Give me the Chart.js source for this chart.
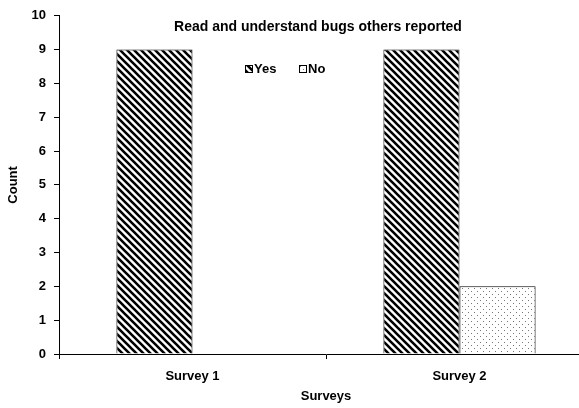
<!DOCTYPE html>
<html>
<head>
<meta charset="utf-8">
<script src="https://cdn.jsdelivr.net/npm/chart.js@4"></script>
<style>
  html, body { margin: 0; padding: 0; background: #fff; overflow: hidden; }
  #wrap { width: 600px; height: 408px; }
</style>
</head>
<body>
<div id="wrap"><canvas id="chart" width="600" height="408"></canvas></div>
<script>
const categories = ["Survey 1", "Survey 2"];
const yesCounts = [9, 9];
const noCounts = [0, 2];
const seriesNames = ["Yes", "No"];
const chartTitle = "Read and understand bugs others reported";

const FONT = "'Liberation Sans', Arial, sans-serif";

// diagonal stripes, top-left to bottom-right
function stripePattern() {
  const c = document.createElement("canvas");
  c.width = 7; c.height = 7;
  const g = c.getContext("2d");
  g.fillStyle = "#fff";
  g.fillRect(0, 0, 7, 7);
  g.strokeStyle = "#000";
  g.lineWidth = 2.6;
  g.beginPath();
  g.moveTo(-7, -7); g.lineTo(14, 14);
  g.moveTo(-7, 0); g.lineTo(7, 14);
  g.moveTo(0, -7); g.lineTo(14, 7);
  g.stroke();
  return g.createPattern(c, "repeat");
}

// sparse dots
function dotPattern() {
  const c = document.createElement("canvas");
  c.width = 6; c.height = 6;
  const g = c.getContext("2d");
  g.fillStyle = "#fff";
  g.fillRect(0, 0, 6, 6);
  g.fillStyle = "#777";
  g.fillRect(0, 0, 1, 1);
  g.fillRect(3, 3, 1, 1);
  return g.createPattern(c, "repeat");
}

const yesFill = stripePattern();
const noFill = dotPattern();

const overlay = {
  id: "overlay",
  afterDraw(chart) {
    const ctx = chart.ctx;
    ctx.save();
    ctx.fillStyle = "#000";
    ctx.font = "bold 14px " + FONT;
    ctx.textAlign = "center";
    ctx.textBaseline = "middle";
    ctx.fillText(chartTitle, 318, 27);

    // legend
    const items = [[245, yesFill, seriesNames[0]], [299, noFill, seriesNames[1]]];
    ctx.textAlign = "left";
    ctx.font = "bold 13px " + FONT;
    items.forEach(([x, fill, name]) => {
      ctx.fillStyle = fill;
      ctx.fillRect(x, 65, 7, 7);
      ctx.strokeStyle = "#000";
      ctx.lineWidth = 1;
      ctx.strokeRect(x + 0.5, 65.5, 7, 7);
      ctx.fillStyle = "#000";
      ctx.fillText(name, x + 9, 69.5);
    });
    ctx.restore();
  }
};

const tickFont = { family: FONT, size: 13, weight: "bold" };

new Chart(document.getElementById("chart"), {
  type: "bar",
  data: {
    labels: categories,
    datasets: [
      { label: seriesNames[0], data: yesCounts, backgroundColor: yesFill, borderColor: "#000", borderWidth: 1 },
      { label: seriesNames[1], data: noCounts, backgroundColor: noFill, borderColor: "#000", borderWidth: 1 }
    ]
  },
  options: {
    responsive: false,
    animation: false,
    layout: { padding: { top: 13, right: 7, left: 0, bottom: 0 } },
    datasets: { bar: { categoryPercentage: 0.57, barPercentage: 1 } },
    plugins: { legend: { display: false }, title: { display: false }, tooltip: { enabled: false } },
    scales: {
      x: {
        afterFit: s => { s.height = 54; },
        grid: { display: true, drawOnChartArea: false, drawTicks: true, tickLength: 5, color: "#000" },
        border: { color: "#000", width: 1 },
        ticks: { color: "#000", font: tickFont, padding: 10 },
        title: { display: true, text: "Surveys", color: "#000", font: tickFont, padding: 4 }
      },
      y: {
        min: 0, max: 10,
        afterFit: s => { s.width = 59; },
        grid: { display: true, drawOnChartArea: false, drawTicks: true, tickLength: 5, color: "#000" },
        border: { color: "#000", width: 1 },
        ticks: { stepSize: 1, color: "#000", font: tickFont, padding: 8 },
        title: { display: true, text: "Count", color: "#000", font: tickFont, padding: 6 }
      }
    }
  },
  plugins: [overlay]
});
</script>
</body>
</html>
